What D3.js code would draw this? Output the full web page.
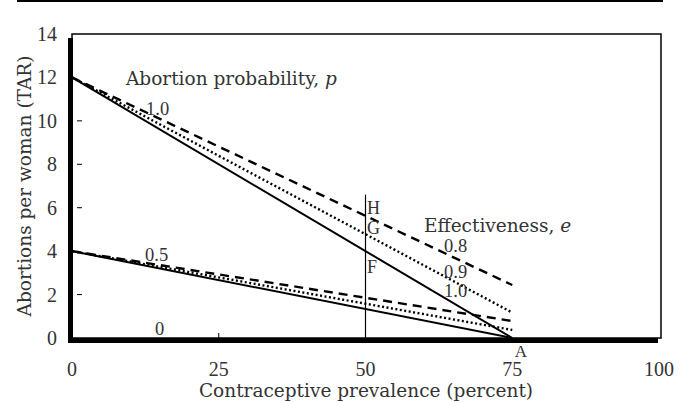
<!DOCTYPE html>
<html>
<head>
<meta charset="utf-8">
<script src="https://cdn.jsdelivr.net/npm/d3@7"></script>
<style>
  body { margin: 0; background: #fff; }
  text { font-family: "Liberation Serif", "Times New Roman", serif; fill: #333; }
  text.words { font-family: "DejaVu Serif", serif; }
</style>
</head>
<body>
<div id="chart"></div>
<script>
// prevalence (percent) at the two ends of every line
const prevalence = [0, 75];
// TAR at those ends, abortion probability p = 1.0
const p10e10 = [12, 0];
const p10e09 = [12, 1.17];
const p10e08 = [12, 2.44];
// abortion probability p = 0.5
const p05e10 = [4, 0];
const p05e09 = [4, 0.37];
const p05e08 = [4, 0.78];

const xTicks = [0, 25, 50, 75, 100];
const yTicks = [0, 2, 4, 6, 8, 10, 12, 14];
const markerX = 50;
const markerTop = 6.6;

const width = 686, height = 402;
const svg = d3.select('#chart').append('svg')
  .attr('width', width).attr('height', height);

const x = d3.scaleLinear().domain([0, 100]).range([72, 659]);
const y = d3.scaleLinear().domain([0, 14]).range([338, 34]);

// rule across the top
svg.append('line').attr('x1', 17).attr('x2', 663).attr('y1', 1).attr('y2', 1)
  .style('stroke', '#000').style('stroke-width', 2);

// thin frame
svg.append('rect')
  .attr('x', x(0)).attr('y', y(14))
  .attr('width', x(100) - x(0) + 2).attr('height', y(0) - y(14))
  .style('fill', 'none').style('stroke', '#000').style('stroke-width', 1.5);

// small ticks inside
svg.selectAll('.ytick').data([2, 6, 8, 10]).enter().append('line')
  .attr('x1', 77).attr('x2', 82).attr('y1', d => y(d)).attr('y2', d => y(d))
  .style('stroke', '#000').style('stroke-width', 1);
svg.append('line').attr('x1', x(25)).attr('x2', x(25)).attr('y1', y(0) - 5).attr('y2', y(0))
  .style('stroke', '#000').style('stroke-width', 1);

// vertical line at 50 percent
svg.append('line').attr('x1', x(markerX)).attr('x2', x(markerX))
  .attr('y1', y(markerTop)).attr('y2', y(0))
  .style('stroke', '#000').style('stroke-width', 1.2);

const line = d3.line().x(d => x(d[0])).y(d => y(d[1]));
const styles = { solid: null, dotted: '2,2.5', dashed: '9,6' };
const series = [
  { v: p10e10, s: 'solid' }, { v: p10e09, s: 'dotted' }, { v: p10e08, s: 'dashed' },
  { v: p05e10, s: 'solid' }, { v: p05e09, s: 'dotted' }, { v: p05e08, s: 'dashed' }
];
svg.selectAll('.series').data(series).enter().append('path')
  .attr('d', d => line(prevalence.map((p, i) => [p, d.v[i]])))
  .style('fill', 'none').style('stroke', '#000')
  .style('stroke-width', d => d.s === 'solid' ? 2 : 2.4)
  .style('stroke-dasharray', d => styles[d.s]);

// thick axes
svg.append('line').attr('x1', 70.5).attr('x2', 70.5).attr('y1', 38).attr('y2', 343)
  .style('stroke', '#000').style('stroke-width', 5);
svg.append('line').attr('x1', 68).attr('x2', 658).attr('y1', 340.5).attr('y2', 340.5)
  .style('stroke', '#000').style('stroke-width', 5);

// tick labels
svg.selectAll('.ylab').data(yTicks).enter().append('text')
  .attr('x', 57).attr('y', d => y(d) + 7)
  .attr('text-anchor', 'end').style('font-size', '20px').text(d => d);
svg.selectAll('.xlab').data(xTicks).enter().append('text')
  .attr('x', d => x(d)).attr('y', 376)
  .attr('text-anchor', 'middle').style('font-size', '20px').text(d => d);

// axis titles
svg.append('text').attr('class', 'words').attr('x', 366).attr('y', 397).attr('text-anchor', 'middle')
  .style('font-size', '18.5px').text('Contraceptive prevalence (percent)');
svg.append('text').attr('class', 'words').attr('transform', 'translate(31,186) rotate(-90)')
  .attr('text-anchor', 'middle').style('font-size', '18.5px').text('Abortions per woman (TAR)');

// annotations
const label = (tx, px, py, size) => svg.append('text').attr('x', px).attr('y', py)
  .style('font-size', (size || 18.5) + 'px').text(tx);

const t1 = label('Abortion probability, ', 126, 85).attr('class', 'words');
t1.append('tspan').style('font-style', 'italic').text('p');
label('1.0', 146, 115);
label('0.5', 145, 261);
label('0', 155, 335);
label('H', 367, 214, 18);
label('G', 367, 234, 18);
label('F', 367, 273, 18);
const t2 = label('Effectiveness, ', 424, 232).attr('class', 'words');
t2.append('tspan').style('font-style', 'italic').text('e');
label('0.8', 444, 252);
label('0.9', 444, 278);
label('1.0', 444, 297);
svg.append('text').attr('x', 521).attr('y', 357).attr('text-anchor', 'middle')
  .style('font-size', '17px').text('A');
</script>
</body>
</html>
